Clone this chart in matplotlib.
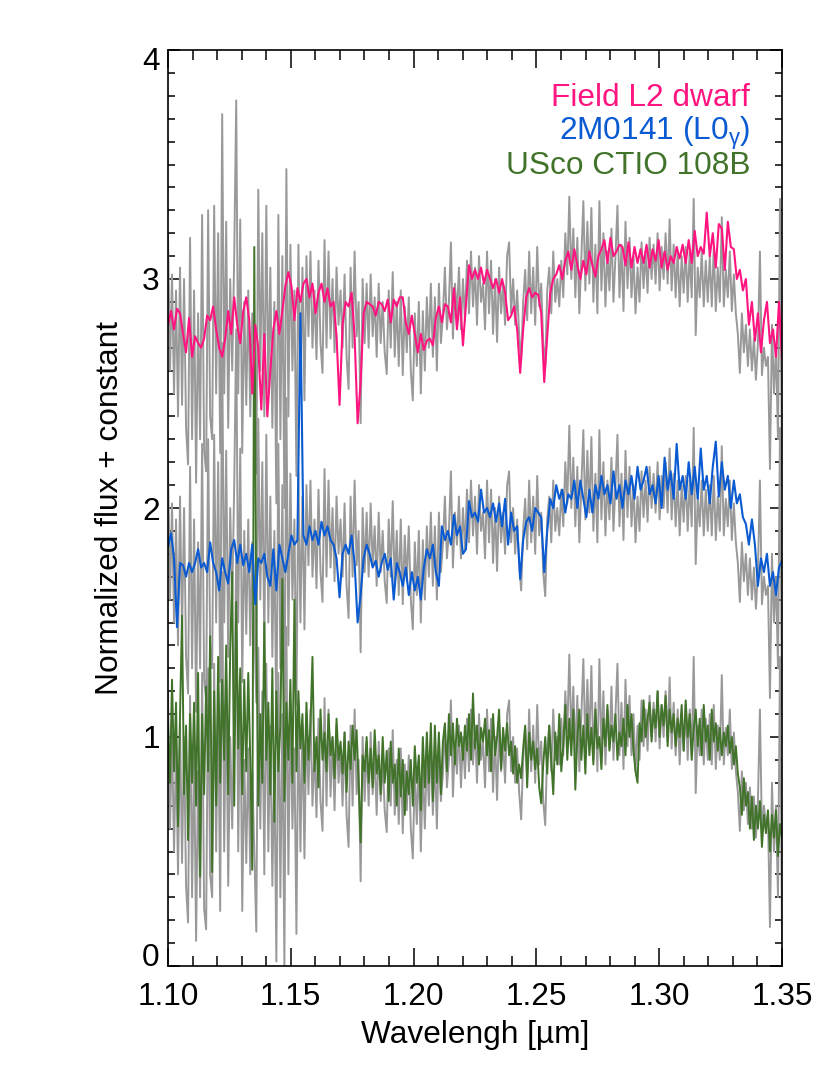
import numpy as np
import matplotlib
matplotlib.use("Agg")
import matplotlib.pyplot as plt
from matplotlib.ticker import MultipleLocator
from matplotlib.transforms import ScaledTranslation

plt.rcParams["font.family"] = ["Liberation Sans", "DejaVu Sans"]
plt.rcParams["mathtext.fontset"] = "dejavusans"
plt.rcParams["mathtext.default"] = "regular"

# grey comparison spectrum, same one is shifted by 0, 1 and 2
grey_flux = [
    1.20, .60, 1.02, .50, .95, .40, 1.05, .45, 1.00, .35,
    .19, 1.18, .30, .95, .11, .85, .30, 1.28, .25, .16,
    1.30, .40, .30, 1.32, .50, 1.20, .24, 1.72, .50, 1.25,
    .35, 1.00, .60, 1.10, 1.78, .50, 1.26, .24, .90, .45,
    .95, .40, .85, .50, .15, 1.39, .60, 1.20, .40, 1.32,
    .50, 1.05, .35, .90, .02, 1.28, .30, 1.10, .00, 1.48,
    .40, 1.15, .60, .95, .14, 1.15, .50, 1.05, .47, 1.10,
    .75, 1.12, .70, .95, .65, 1.08, .72, .59, 1.17, .70,
    1.12, .74, 1.00, .68, 1.05, .80, .95, .70, 1.02, .66,
    .52, 1.05, .70, 1.12, .75, .90, .37, 1.00, .72, .98,
    .70, 1.02, .75, .92, .66, .98, .72, .90, .68, .585,
    .95, .70, 1.03, .66, .90, .62, .95, .58, .88, .68,
    .92, .60, .47, .85, .62, .90, .50, .86, .60, .92,
    .70, .98, .66, .92, .60, .98, .72, .84, 1.05, .78,
    .90, 1.16, .74, .98, .84, 1.05, .78, 1.00, .82, 1.08,
    .85, 1.12, .88, 1.05, .80, 1.10, .90, .98, .78, 1.12,
    .85, 1.08, .76, 1.00, .725, 1.05, .85, .98, .80, 1.10,
    1.16, .85, 1.00, .80, .95, .76, .64, .90, 1.04, .82,
    1.12, .85, 1.05, .80, 1.14, .88, .98, .72, .615, .95,
    1.05, .85, 1.12, .90, 1.00, .88, 1.08, .92, 1.20, 1.02,
    1.36, 1.00, 1.22, .92, 1.18, .85, 1.10, 1.34, .95, 1.25,
    .98, 1.31, .90, 1.15, .85, 1.34, .95, 1.20, .88, 1.12,
    .95, 1.22, .90, 1.10, 1.32, .92, 1.15, .86, 1.25, .96,
    1.18, .92, 1.10, .85, 1.05, .90, 1.16, .96, 1.12, .94,
    1.18, 1.00, 1.15, .98, 1.20, .95, 1.14, 1.00, 1.20, .98,
    1.26, .95, 1.15, .92, 1.12, .88, 1.10, .94, 1.14, .90,
    1.12, .92, 1.35, .755, 1.05, .92, 1.12, .88, 1.08, .90,
    1.10, .88, 1.14, .86, 1.05, .90, 1.27, .88, 1.04, .92,
    1.12, .86, 1.02, .85, .76, .59, .85, .68, .80, .62,
    .78, .60, .74, .56, .72, 1.12, .58, .70, .62, .66,
    .17, .80, .50, .70, .30, 1.35, .12,
]

green_flux = [
    1.05, .80, 1.25, .85, 1.15, .61, 1.10, 1.53, .75, 1.05,
    .55, 1.10, .80, 1.15, .70, 1.28, .39, 1.10, .75, 1.22,
    .85, 1.44, .41, 1.20, .70, 1.35, .80, 1.25, .90, 1.40,
    .75, 1.38, 1.72, .70, 1.59, .95, 1.30, .75, 1.25, .85,
    1.28, .90, .42, 3.14, 1.50, .70, 1.10, .80, 1.50, .90,
    1.15, .75, 1.30, .63, 1.20, .85, 1.05, 1.69, .72, 1.15,
    .90, 1.25, .80, 1.60, .85, 1.20, .95, 1.10, .80, 1.15,
    .90, 1.05, 1.35, .85, 1.00, .78, 1.12, .90, 1.02, .85,
    1.10, .92, 1.00, .82, 1.08, .90, .98, .84, 1.02, .76,
    .98, .86, 1.05, .90, 1.03, .80, .54, .92, .85, 1.00,
    .80, .95, .78, 1.03, .84, .92, .75, 1.00, .80, .94,
    .72, .98, .80, .88, .70, .95, .74, .90, .66, .85,
    .75, .90, .70, .96, .80, .92, .68, 1.00, .78, 1.02,
    .80, 1.06, .72, 1.05, .80, 1.02, .75, .98, 1.06, .85,
    1.10, .92, 1.06, .88, 1.08, .96, 1.02, .90, 1.05, .94,
    1.10, .90, 1.19, .95, 1.05, .88, 1.04, .98, 1.08, .92,
    1.03, .85, 1.10, .92, 1.00, 1.12, .86, 1.04, .94, 1.06,
    .92, .98, .84, .96, .80, .88, .82, .95, 1.05, .78,
    1.02, .90, .98, .86, .95, .78, .71, .88, 1.00, .84,
    1.05, .90, .75, 1.02, .88, 1.10, .85, .96, 1.14, .90,
    1.08, .92, 1.12, .77, 1.00, 1.12, .90, 1.05, .84, 1.10,
    .92, 1.04, .88, 1.12, .95, 1.00, .86, 1.08, .96, 1.14,
    .94, 1.05, .98, 1.10, .90, 1.02, .96, 1.08, .92, 1.14,
    1.00, 1.10, .94, .85, .80, 1.06, .98, 1.16, 1.00, 1.08,
    1.15, .98, 1.12, 1.04, 1.20, 1.00, 1.14, 1.05, 1.18, .96,
    1.12, 1.02, 1.10, .96, 1.08, 1.00, 1.14, .94, 1.16, 1.00,
    1.10, .90, 1.04, 1.12, .96, 1.08, .92, 1.14, .98, 1.05,
    .90, 1.12, .98, 1.06, .94, 1.04, .92, 1.02, .96, 1.05,
    .93, 1.00, .88, .96, .84, .78, .66, .82, .70, .76,
    .60, .74, .55, .70, .60, .72, .52, .66, .58, .68,
    .50, .66, .56, .68, .48, .62, .56,
]

blue_flux = [
    1.83, 1.89, 1.78, 1.48, 1.76, 1.75, 1.70, 1.76, 1.72, 1.76,
    1.82, 1.74, 1.76, 1.72, 1.85, 1.76, 1.72, 1.64, 1.78, 1.72,
    1.67, 1.82, 1.86, 1.76, 1.84, 1.75, 1.80, 1.72, 1.84, 1.58,
    1.78, 1.76, 1.80, 1.70, 1.66, 1.82, 1.64, 1.84, 1.78, 1.72,
    1.80, 1.88, 1.84, 1.86, 2.85, 1.88, 1.84, 1.92, 1.86, 1.90,
    1.84, 1.94, 1.88, 1.92, 1.86, 1.84, 1.78, 1.61, 1.80, 1.84,
    1.80, 1.88, 1.76, 1.50, 1.62, 1.78, 1.84, 1.80, 1.74, 1.77,
    1.70, 1.76, 1.80, 1.73, 1.78, 1.60, 1.76, 1.72, 1.66, 1.74,
    1.62, 1.72, 1.64, 1.70, 1.60, 1.74, 1.82, 1.78, 1.84, 1.72,
    1.66, 1.92, 1.86, 1.90, 1.84, 1.97, 1.88, 1.92, 1.80, 1.82,
    2.03, 1.96, 1.98, 1.94, 2.08, 1.98, 2.00, 1.96, 2.02, 1.94,
    2.02, 1.92, 2.04, 1.84, 1.98, 1.90, 1.92, 1.69, 1.86, 1.94,
    1.96, 1.90, 2.00, 1.98, 1.96, 1.72, 1.90, 2.04, 2.00, 2.10,
    2.04, 2.08, 1.98, 2.06, 2.04, 2.12, 2.00, 2.12, 2.04, 1.96,
    2.08, 1.98, 2.10, 2.04, 2.14, 2.06, 2.10, 2.02, 2.16, 2.04,
    2.10, 2.00, 2.12, 2.06, 2.14, 2.04, 2.18, 2.08, 2.12, 2.18,
    2.06, 2.10, 2.02, 2.14, 2.00, 2.22, 2.08, 2.16, 2.04, 2.28,
    2.08, 2.14, 2.04, 2.20, 2.06, 2.18, 2.04, 2.26, 2.08, 2.14,
    2.02, 2.18, 2.29, 2.05, 2.20, 2.08, 2.14, 2.00, 2.12, 2.02,
    2.06, 1.96, 1.93, 1.84, 1.95, 1.84, 1.66, 1.78, 1.72, 1.80,
    1.66, 1.72, 1.62, 1.74, 1.77,
]

pink_flux = [
    2.80, 2.86, 2.78, 2.87, 2.85, 2.76, 2.68, 2.83, 2.66, 2.75,
    2.72, 2.70, 2.74, 2.84, 2.82, 2.88, 2.78, 2.70, 2.66, 2.74,
    2.86, 2.76, 2.92, 2.80, 2.72, 2.86, 2.92, 2.82, 2.50, 2.80,
    2.70, 2.43, 2.76, 2.40, 2.60, 2.78, 2.86, 2.76, 2.86, 2.97,
    3.03, 2.97, 2.82, 2.96, 2.90, 2.98, 3.00, 2.92, 2.98, 2.85,
    2.94, 2.98, 2.90, 2.96, 2.88, 2.90, 2.75, 2.45, 2.80, 2.90,
    2.88, 2.94, 2.75, 2.37, 2.55, 2.85, 2.90, 2.89, 2.88, 2.84,
    2.90, 2.89, 2.86, 2.91, 2.81, 2.91, 2.88, 2.92, 2.92, 2.81,
    2.76, 2.84, 2.76, 2.68, 2.76, 2.69, 2.73, 2.74, 2.71, 2.83,
    2.88, 2.81, 2.89, 2.88, 2.81, 2.96, 2.78, 2.92, 2.71, 2.89,
    3.06, 3.00, 3.04, 3.00, 3.05, 2.98, 3.04, 3.00, 2.96, 3.00,
    2.94, 3.00, 2.94, 2.82, 2.84, 2.88, 2.78, 2.59, 2.78, 2.92,
    2.96, 2.92, 2.94, 2.93, 2.85, 2.55, 2.75, 2.94, 3.00, 3.02,
    3.06, 3.00, 3.08, 3.12, 3.04, 3.13, 3.06, 3.00, 3.08, 3.02,
    3.12, 3.06, 3.01, 3.10, 3.13, 3.17, 3.07, 3.18, 3.10, 3.12,
    3.15, 3.14, 3.06, 3.16, 3.05, 3.14, 3.07, 3.13, 3.07, 3.15,
    3.05, 3.13, 3.08, 3.17, 3.05, 3.12, 3.04, 3.10, 3.07, 3.14,
    3.09, 3.15, 3.07, 3.17, 3.07, 3.21, 3.10, 3.14, 3.11, 3.29,
    3.10, 3.20, 3.05, 3.24, 3.22, 3.04, 3.25, 3.14, 3.13, 3.00,
    3.04, 2.95, 3.00, 2.80, 2.90, 2.73, 2.85, 2.68, 2.82, 2.90,
    2.72, 2.78, 2.66, 2.90, 2.65,
]

grey_offsets = [0, 1, 2]
x_ticks = [1.10, 1.15, 1.20, 1.25, 1.30, 1.35]
y_ticks = [0, 1, 2, 3, 4]

GREY = "#999999"
PINK = "#ff1480"
BLUE = "#0a5ad2"
GREEN = "#41732a"
FONT = 22.8

fig = plt.figure(figsize=(8.3, 10.73), dpi=100)
ax = fig.add_axes([168 / 830, 107 / 1073, 614 / 830, 916 / 1073])

wave_grey = np.linspace(1.10, 1.35, len(grey_flux))
for off in grey_offsets:
    ax.plot(wave_grey, np.array(grey_flux) + off, color=GREY, lw=1.4)

ax.plot(np.linspace(1.10, 1.35, len(green_flux)), green_flux, color=GREEN, lw=1.4)
ax.plot(np.linspace(1.10, 1.35, len(blue_flux)), blue_flux, color=BLUE, lw=1.5)
ax.plot(np.linspace(1.10, 1.35, len(pink_flux)), pink_flux, color=PINK, lw=1.5)

ax.set_xlim(1.10, 1.35)
ax.set_ylim(0, 4)

ax.xaxis.set_minor_locator(MultipleLocator(0.01))
ax.yaxis.set_minor_locator(MultipleLocator(0.1))
ax.set_xticks(x_ticks)
ax.set_xticklabels([f"{t:.2f}" for t in x_ticks])
ax.set_yticks(y_ticks)
ax.set_yticklabels([str(t) for t in y_ticks])

ax.tick_params(axis="x", which="major", direction="in", top=True, length=13, width=1.1, labelsize=FONT, pad=11.5)
ax.tick_params(axis="x", which="minor", direction="in", top=True, length=7, width=1.1)
ax.tick_params(axis="y", which="major", direction="in", right=True, length=8.6, width=1.1, labelsize=FONT, pad=6)
ax.tick_params(axis="y", which="minor", direction="in", right=True, length=5, width=1.1)

# end labels sit inside the axis range, not centred on the tick
ylabels = ax.get_yticklabels()
ylabels[0].set_va("baseline")
ylabels[-1].set_va("top")
ylabels[-1].set_transform(ylabels[-1].get_transform() + ScaledTranslation(0, 3 / 100, fig.dpi_scale_trans))

for sp in ax.spines.values():
    sp.set_linewidth(1.2)

ax.set_xlabel("Wavelengh [µm]", fontsize=FONT, labelpad=5.5)
ax.set_ylabel("Normalized flux + constant", fontsize=FONT, labelpad=12.5)

ax.text(0.948, 0.939, "Field L2 dwarf", color=PINK, fontsize=FONT, ha="right", va="baseline", transform=ax.transAxes)
ax.text(0.948, 0.9017, r"2M0141 (L0$_{\gamma}$)", color=BLUE, fontsize=FONT, ha="right", va="baseline", transform=ax.transAxes)
ax.text(0.948, 0.8646, "USco CTIO 108B", color=GREEN, fontsize=FONT, ha="right", va="baseline", transform=ax.transAxes)

fig.savefig("out.png", dpi=100)
